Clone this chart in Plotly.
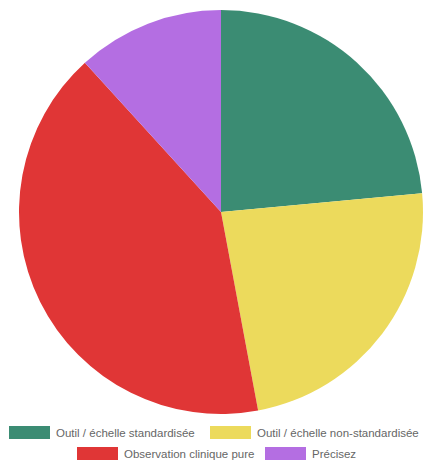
import plotly.graph_objects as go

# Answers by category
labels = [
    "Outil / échelle standardisée",
    "Outil / échelle non-standardisée",
    "Observation clinique pure",
    "Précisez",
]
counts = [4, 4, 7, 2]
colors = ["#3b8c73", "#ecda5c", "#e03636", "#b46ee2"]

W, H = 424, 460

fig = go.Figure(
    go.Pie(
        labels=labels,
        values=counts,
        sort=False,
        direction="clockwise",
        rotation=0,
        textinfo="none",
        hoverinfo="label+value+percent",
        marker=dict(colors=colors, line=dict(width=0)),
        domain=dict(x=[19 / W, 423 / W], y=[46 / H, 450 / H]),
        showlegend=False,
    )
)

# Legend drawn as coloured boxes with labels, in two rows
legend_pos = [(9, 432.5), (210, 432.5), (77, 453.5), (265, 453.5)]
box_w, box_h, gap = 41, 13, 5

shapes, annots = [], []
for i, (x, cy) in enumerate(legend_pos):
    shapes.append(dict(
        type="rect", xref="paper", yref="paper",
        x0=x / W, x1=(x + box_w) / W,
        y0=1 - (cy + box_h / 2) / H, y1=1 - (cy - box_h / 2) / H,
        fillcolor=colors[i], line=dict(width=0),
    ))
    annots.append(dict(
        x=(x + box_w + gap) / W, y=1 - cy / H, xref="paper", yref="paper",
        text=labels[i], showarrow=False, xanchor="left", yanchor="middle",
        xshift=-1,
        font=dict(family="Liberation Sans, Arial, sans-serif", size=11.5, color="#666666"),
    ))

fig.update_layout(
    width=W, height=H,
    margin=dict(l=0, r=0, t=0, b=0),
    paper_bgcolor="white",
    plot_bgcolor="white",
    shapes=shapes,
    annotations=annots,
)

fig.write_html("out.html")
